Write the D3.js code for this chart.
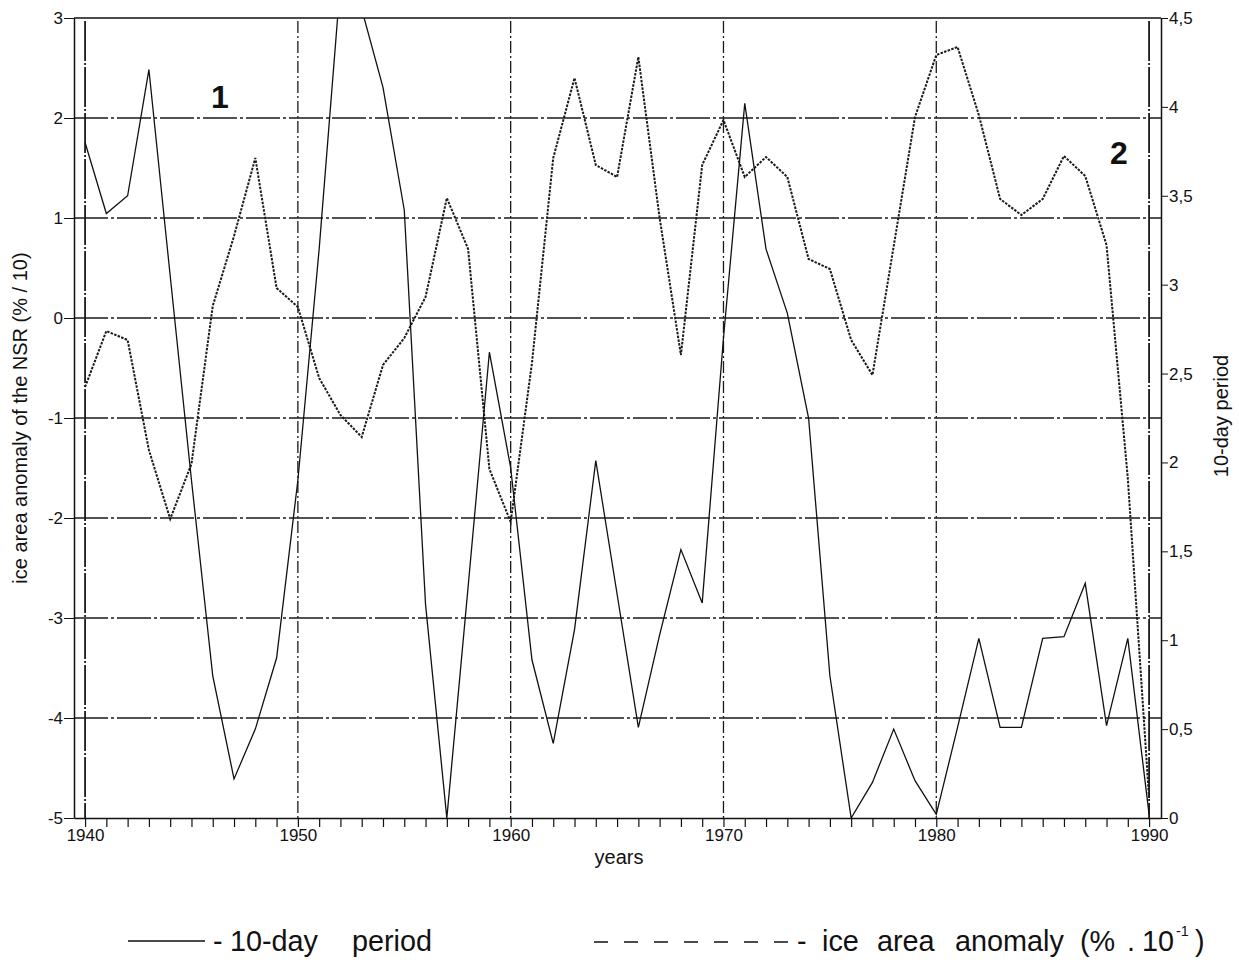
<!DOCTYPE html>
<html>
<head>
<meta charset="utf-8">
<script src="https://cdn.jsdelivr.net/npm/d3@7"></script>
<style>
  body { margin: 0; background: #fff; }
  svg { display: block; }
  .axis text { fill: #111; }
  .axis line, .axis path { stroke: #111; }
</style>
</head>
<body>
<svg id="chart"></svg>
<script>
let years = [1940, 1941, 1942, 1943, 1944, 1945, 1946, 1947, 1948, 1949,
             1950, 1951, 1952, 1953, 1954, 1955, 1956, 1957, 1958, 1959,
             1960, 1961, 1962, 1963, 1964, 1965, 1966, 1967, 1968, 1969,
             1970, 1971, 1972, 1973, 1974, 1975, 1976, 1977, 1978, 1979,
             1980, 1981, 1982, 1983, 1984, 1985, 1986, 1987, 1988, 1989, 1990]

// 10-day period (right axis)
let tenDay = [3.80, 3.40, 3.50, 4.21, 3.05, 1.90, 0.80, 0.22, 0.50, 0.90,
              1.90, 3.20, 4.70, 4.55, 4.11, 3.42, 1.20, 0.00, 1.30, 2.62,
              1.97, 0.89, 0.42, 1.06, 2.01, 1.26, 0.51, 1.03, 1.51, 1.21,
              2.70, 4.02, 3.20, 2.84, 2.25, 0.80, 0.00, 0.20, 0.50, 0.21,
              0.02, 0.51, 1.01, 0.51, 0.51, 1.01, 1.02, 1.32, 0.52, 1.01, 0.02]

// ice area anomaly (left axis)
let iceAnomaly = [-0.69, -0.13, -0.22, -1.32, -2.01, -1.46, 0.12, 0.82, 1.60, 0.30,
                  0.11, -0.60, -0.97, -1.19, -0.47, -0.20, 0.21, 1.20, 0.69, -1.51,
                  -2.04, -0.45, 1.60, 2.40, 1.53, 1.41, 2.61, 1.00, -0.37, 1.53,
                  1.98, 1.41, 1.61, 1.41, 0.59, 0.49, -0.22, -0.57, 0.72, 2.01,
                  2.63, 2.71, 2.03, 1.19, 1.03, 1.19, 1.62, 1.42, 0.73, -1.60, -4.80]

let leftTicks = [-5, -4, -3, -2, -1, 0, 1, 2, 3]
let rightTicks = [0, 0.5, 1, 1.5, 2, 2.5, 3, 3.5, 4, 4.5]
let decades = [1940, 1950, 1960, 1970, 1980, 1990]

let width = 1239
let height = 963
let plot = {left: 74, right: 1161, top: 18, bottom: 818}
let font = "'Liberation Sans', Arial, Helvetica, sans-serif"

let svg = d3.select("#chart")
    .attr("width", width)
    .attr("height", height)
    .attr("font-family", font)

let xScale = d3.scaleLinear()
    .domain([1939.48, 1990.56])
    .range([plot.left, plot.right])

let yLeft = d3.scaleLinear()
    .domain([-5, 3])
    .range([plot.bottom, plot.top])

let yRight = d3.scaleLinear()
    .domain([0, 4.5])
    .range([plot.bottom, plot.top])

svg.append("clipPath")
    .attr("id", "plot_clip")
    .append("rect")
    .attr("x", plot.left)
    .attr("y", plot.top)
    .attr("width", plot.right - plot.left)
    .attr("height", plot.bottom - plot.top)

// grid
let grid = svg.append("g").attr("id", "grid")

grid.selectAll(".hgrid")
    .data(leftTicks.filter(d => d > -5 && d < 3))
    .enter()
    .append("line")
    .attr("class", "hgrid")
    .attr("x1", plot.left)
    .attr("x2", plot.right)
    .attr("y1", d => yLeft(d))
    .attr("y2", d => yLeft(d))
    .attr("stroke", "#1a1a1a")
    .attr("stroke-width", 1.5)
    .attr("stroke-dasharray", "34,3,3,3")

grid.selectAll(".vgrid")
    .data(decades)
    .enter()
    .append("line")
    .attr("class", "vgrid")
    .attr("x1", d => xScale(d))
    .attr("x2", d => xScale(d))
    .attr("y1", plot.top + 3)
    .attr("y2", plot.bottom)
    .attr("stroke", "#1a1a1a")
    .attr("stroke-width", d => (d === 1940 || d === 1990) ? 1.8 : 1.3)
    .attr("stroke-dasharray", d => (d === 1940 || d === 1990) ? "40,2,2,2" : "12,3,2,3")

// top frame
svg.append("line")
    .attr("x1", plot.left)
    .attr("x2", plot.right)
    .attr("y1", plot.top)
    .attr("y2", plot.top)
    .attr("stroke", "#111")
    .attr("stroke-width", 1.5)

// lines
let lines = svg.append("g").attr("clip-path", "url(#plot_clip)")

let tenDayLine = d3.line()
    .x((d, i) => xScale(years[i]))
    .y(d => yRight(d))

let iceLine = d3.line()
    .x((d, i) => xScale(years[i]))
    .y(d => yLeft(d))

lines.append("path")
    .datum(iceAnomaly)
    .attr("d", iceLine)
    .attr("fill", "none")
    .attr("stroke", "#1a1a1a")
    .attr("stroke-width", 2)
    .attr("stroke-dasharray", "2.5,1.3")

lines.append("path")
    .datum(tenDay)
    .attr("d", tenDayLine)
    .attr("fill", "none")
    .attr("stroke", "#111")
    .attr("stroke-width", 1.3)

// axes
let xAxis = svg.append("g")
    .attr("class", "axis")
    .attr("transform", "translate(0," + plot.bottom + ")")
    .call(d3.axisBottom(xScale)
        .tickValues(years)
        .tickSize(9)
        .tickSizeOuter(0)
        .tickFormat(d => d % 10 === 0 ? d : ""))
xAxis.selectAll("text").attr("font-size", 17).attr("dy", "0.62em")
xAxis.selectAll("line").attr("stroke-width", 1.2)
xAxis.select(".domain").attr("stroke-width", 1.6)

let leftAxis = svg.append("g")
    .attr("class", "axis")
    .attr("transform", "translate(" + plot.left + ",0)")
    .call(d3.axisLeft(yLeft)
        .tickValues(leftTicks)
        .tickSize(10)
        .tickSizeOuter(0)
        .tickPadding(1)
        .tickFormat(d => String(d)))
leftAxis.selectAll("text").attr("font-size", 17)
leftAxis.select(".domain").attr("stroke-width", 1.5)

let rightAxis = svg.append("g")
    .attr("class", "axis")
    .attr("transform", "translate(" + plot.right + ",0)")
    .call(d3.axisRight(yRight)
        .tickValues(rightTicks)
        .tickSize(7)
        .tickSizeOuter(0)
        .tickPadding(1)
        .tickFormat(d => String(d).replace(".", ",")))
rightAxis.selectAll("text").attr("font-size", 17)
rightAxis.select(".domain").attr("stroke-width", 1.5)

// axis titles
svg.append("text")
    .text("years")
    .attr("x", 619)
    .attr("y", 864)
    .attr("text-anchor", "middle")
    .attr("font-size", 20)
    .attr("fill", "#111")

svg.append("text")
    .text("ice area anomaly of the NSR (% / 10)")
    .attr("text-anchor", "middle")
    .attr("font-size", 20)
    .attr("fill", "#111")
    .attr("transform", "translate(27, 418) rotate(-90)")

svg.append("text")
    .text("10-day period")
    .attr("text-anchor", "middle")
    .attr("font-size", 20)
    .attr("fill", "#111")
    .attr("transform", "translate(1228, 416) rotate(-90)")

// curve numbers
svg.append("text")
    .text("1")
    .attr("x", 220)
    .attr("y", 108)
    .attr("text-anchor", "middle")
    .attr("font-size", 32)
    .attr("font-weight", "bold")
    .attr("fill", "#111")

svg.append("text")
    .text("2")
    .attr("x", 1119)
    .attr("y", 164)
    .attr("text-anchor", "middle")
    .attr("font-size", 32)
    .attr("font-weight", "bold")
    .attr("fill", "#111")

// legend
let legend = svg.append("g")
    .attr("font-size", 30)
    .attr("fill", "#111")

legend.append("line")
    .attr("x1", 128).attr("x2", 205)
    .attr("y1", 941).attr("y2", 941)
    .attr("stroke", "#111")
    .attr("stroke-width", 1.5)

legend.append("line")
    .attr("x1", 594).attr("x2", 790)
    .attr("y1", 942).attr("y2", 942)
    .attr("stroke", "#111")
    .attr("stroke-width", 1.5)
    .attr("stroke-dasharray", "14,16")

let legendWords = [
    {t: "-", x: 213}, {t: "10-day", x: 230}, {t: "period", x: 352},
    {t: "-", x: 797}, {t: "ice", x: 822}, {t: "area", x: 877},
    {t: "anomaly", x: 955}, {t: "(%", x: 1080}, {t: ".", x: 1127},
    {t: "10", x: 1142}, {t: ")", x: 1195}
]

legend.selectAll(".lword")
    .data(legendWords)
    .enter()
    .append("text")
    .attr("class", "lword")
    .text(d => d.t)
    .attr("transform", d => "translate(" + d.x + ",951) scale(0.96,1)")

legend.append("text")
    .text("-1")
    .attr("transform", "translate(1176,936) scale(0.96,1)")
    .attr("font-size", 15)
</script>
</body>
</html>
